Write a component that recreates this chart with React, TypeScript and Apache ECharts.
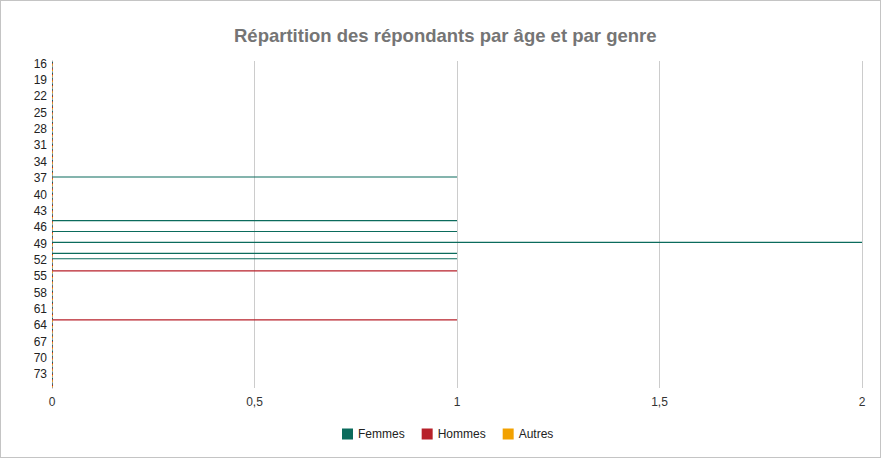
import React, { useEffect, useRef } from "react";
import * as echarts from "echarts";

const ages = [
  "16", "17", "18", "19", "20", "21", "22", "23", "24", "25",
  "26", "27", "28", "29", "30", "31", "32", "33", "34", "35",
  "36", "37", "38", "39", "40", "41", "42", "43", "44", "45",
  "46", "47", "48", "49", "50", "51", "52", "53", "54", "55",
  "56", "57", "58", "59", "60", "61", "62", "63", "64", "65",
  "66", "67", "68", "69", "70", "71", "72", "73", "74", "75",
];

const femmes = [
  0, 0, 0, 0, 0, 0, 0, 0, 0, 0,
  0, 0, 0, 0, 0, 0, 0, 0, 0, 0,
  0, 1, 0, 0, 0, 0, 0, 0, 0, 1,
  0, 1, 0, 2, 0, 1, 1, 0, 0, 0,
  0, 0, 0, 0, 0, 0, 0, 0, 0, 0,
  0, 0, 0, 0, 0, 0, 0, 0, 0, 0,
];

const hommes = [
  0, 0, 0, 0, 0, 0, 0, 0, 0, 0,
  0, 0, 0, 0, 0, 0, 0, 0, 0, 0,
  0, 0, 0, 0, 0, 0, 0, 0, 0, 0,
  0, 0, 0, 0, 0, 0, 0, 0, 1, 0,
  0, 0, 0, 0, 0, 0, 0, 1, 0, 0,
  0, 0, 0, 0, 0, 0, 0, 0, 0, 0,
];

const autres = [
  0, 0, 0, 0, 0, 0, 0, 0, 0, 0,
  0, 0, 0, 0, 0, 0, 0, 0, 0, 0,
  0, 0, 0, 0, 0, 0, 0, 0, 0, 0,
  0, 0, 0, 0, 0, 0, 0, 0, 0, 0,
  0, 0, 0, 0, 0, 0, 0, 0, 0, 0,
  0, 0, 0, 0, 0, 0, 0, 0, 0, 0,
];

const seriesNames = ["Femmes", "Hommes", "Autres"];
const colors = ["#0b6b5c", "#b7212a", "#f2a100"];
const titleText = "Répartition des répondants par âge et par genre";

const FONT = "'Liberation Sans', Arial, sans-serif";

export default function App() {
  const ref = useRef<HTMLDivElement>(null);

  useEffect(() => {
    if (!ref.current) return;
    const chart = echarts.init(ref.current, undefined, { renderer: "svg" });
    const values = [femmes, hommes, autres];
    chart.setOption({
      animation: false,
      color: colors,
      textStyle: { fontFamily: FONT },
      title: {
        text: titleText,
        left: 229,
        top: 21,
        textStyle: { fontSize: 18.5, fontWeight: "bold", color: "#757575", fontFamily: FONT },
      },
      legend: {
        data: seriesNames,
        top: 423,
        left: 337,
        icon: "rect",
        itemWidth: 11,
        itemHeight: 11,
        itemGap: 17,
        textStyle: { fontSize: 12, color: "#222", fontFamily: FONT },
      },
      grid: { left: 52, right: 19, top: 61, bottom: 70, containLabel: false },
      xAxis: {
        type: "value",
        min: 0,
        max: 2,
        interval: 0.5,
        axisLine: { show: false },
        axisTick: { show: false },
        axisLabel: {
          fontSize: 12,
          color: "#333",
          margin: 8,
          fontFamily: FONT,
          formatter: (v: number) => String(v).replace(".", ","),
        },
        splitLine: { show: true, lineStyle: { color: "#cccccc", width: 1 } },
      },
      yAxis: {
        type: "category",
        data: ages,
        inverse: true,
        axisLine: { show: true, lineStyle: { color: "#9e9e9e", width: 1 } },
        axisTick: { show: false },
        axisLabel: {
          interval: 2,
          fontSize: 12,
          color: "#222",
          margin: 5,
          fontFamily: FONT,
        },
        splitLine: { show: false },
      },
      series: seriesNames.map((name, i) => ({
        name,
        type: "bar",
        data: values[i],
        barWidth: 1.2,
        barGap: "0%",
        barMinHeight: 1,
        itemStyle: { color: colors[i] },
      })),
    });
    return () => chart.dispose();
  }, []);

  return (
    <div
      style={{
        position: "absolute",
        left: 0,
        top: 0,
        width: 881,
        height: 458,
        boxSizing: "border-box",
        border: "1px solid #c4c4c4",
        background: "#fff",
      }}
    >
      <div
        ref={ref}
        style={{ position: "absolute", left: -1, top: -1, width: 881, height: 458 }}
      />
    </div>
  );
}
